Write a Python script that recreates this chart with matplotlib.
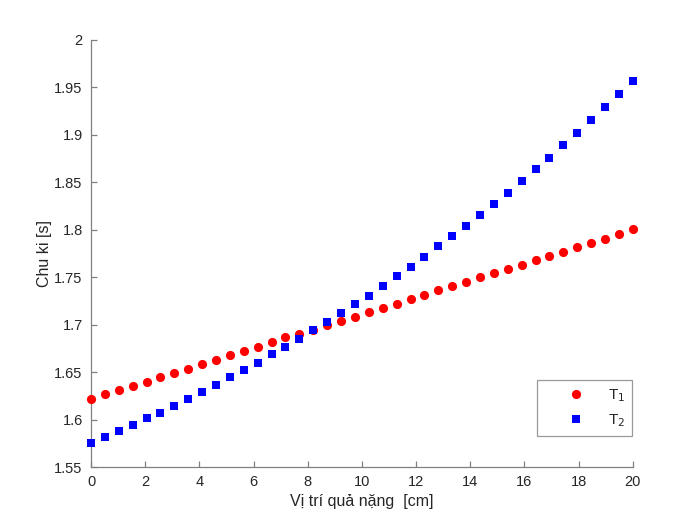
import numpy as np
import matplotlib
matplotlib.use("Agg")
import matplotlib.pyplot as plt
from matplotlib.ticker import FuncFormatter, MultipleLocator

plt.rcParams['font.family'] = ['Liberation Sans', 'DejaVu Sans']

# Position of the mass [cm] (40 evenly spaced samples from 0 to 20)
x_pos = [0.0, 0.513, 1.026, 1.538, 2.051, 2.564, 3.077, 3.590, 4.103, 4.615,
         5.128, 5.641, 6.154, 6.667, 7.179, 7.692, 8.205, 8.718, 9.231, 9.744,
         10.256, 10.769, 11.282, 11.795, 12.308, 12.821, 13.333, 13.846, 14.359, 14.872,
         15.385, 15.897, 16.410, 16.923, 17.436, 17.949, 18.462, 18.974, 19.487, 20.0]

T1 = [1.6222, 1.6268, 1.6314, 1.6352, 1.6401, 1.6447, 1.6492, 1.6538, 1.6587, 1.6629,
      1.6679, 1.6724, 1.6769, 1.6816, 1.6868, 1.6906, 1.6945, 1.6998, 1.7040, 1.7085,
      1.7131, 1.7180, 1.7222, 1.7271, 1.7316, 1.7363, 1.7408, 1.7453, 1.7500, 1.7545,
      1.7587, 1.7632, 1.7678, 1.7724, 1.7769, 1.7815, 1.7864, 1.7906, 1.7955, 1.8005]

T2 = [1.5753, 1.5816, 1.5882, 1.5945, 1.6016, 1.6075, 1.6145, 1.6222, 1.6292, 1.6369,
      1.6447, 1.6524, 1.6601, 1.6689, 1.6769, 1.6853, 1.6942, 1.7032, 1.7127, 1.7219,
      1.7306, 1.7408, 1.7510, 1.7611, 1.7716, 1.7826, 1.7937, 1.8043, 1.8158, 1.8274,
      1.8390, 1.8513, 1.8636, 1.8758, 1.8889, 1.9021, 1.9152, 1.9289, 1.9429, 1.9569]

labels = ['T$_1$', 'T$_2$']
xlabel = 'Vị trí quả nặng  [cm]'
ylabel = 'Chu ki [s]'

text_c = '#262626'
axis_c = '#808080'

fig = plt.figure(figsize=(7.0, 5.26), dpi=100)
ax = fig.add_axes([0.13, 0.112, 0.774, 0.812])

ax.plot(x_pos, T1, 'o', color='#ff0000', markersize=6.6, markeredgewidth=0,
        label=labels[0], zorder=3, clip_on=False)
ax.plot(x_pos, T2, 's', color='#0000ff', markersize=5.3, markeredgewidth=0,
        label=labels[1], zorder=3, clip_on=False)

ax.set_xlim(0, 20)
ax.set_ylim(1.55, 2.0)
ax.xaxis.set_major_locator(MultipleLocator(2))
ax.yaxis.set_major_locator(MultipleLocator(0.05))
ax.yaxis.set_major_formatter(FuncFormatter(lambda v, p: '%g' % round(v, 3)))

for s in ['top', 'right']:
    ax.spines[s].set_visible(False)
for s in ['left', 'bottom']:
    ax.spines[s].set_color(axis_c)
    ax.spines[s].set_linewidth(0.9)

ax.tick_params(direction='in', length=4, width=0.9, color=axis_c,
               labelcolor=text_c, labelsize=10.5, pad=6)

ax.set_xlabel(xlabel, fontsize=11.5, color=text_c, labelpad=3)
ax.set_ylabel(ylabel, fontsize=11.5, color=text_c, labelpad=2)

leg = ax.legend(loc='lower right', bbox_to_anchor=(0.998, 0.073), fontsize=11,
                frameon=True, fancybox=False, markerfirst=True,
                handlelength=4.2, handletextpad=0.0, borderpad=0.45,
                labelspacing=0.55, borderaxespad=0.0)
leg.get_frame().set_edgecolor(axis_c)
leg.get_frame().set_linewidth(0.9)
for t in leg.get_texts():
    t.set_color(text_c)

fig.savefig('out.png', dpi=100, facecolor='white')
